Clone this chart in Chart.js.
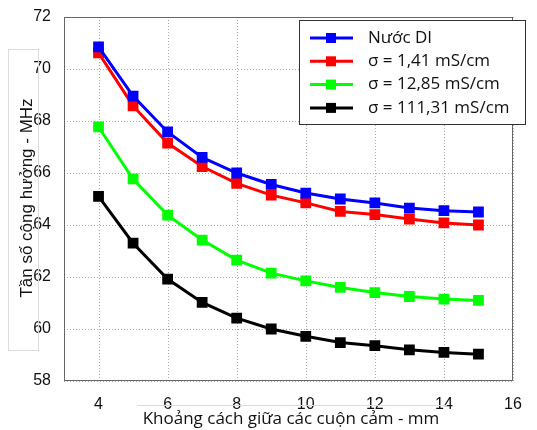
<!DOCTYPE html>
<html>
<head>
<meta charset="utf-8">
<script src="https://cdn.jsdelivr.net/npm/chart.js@4.4.1/dist/chart.umd.min.js"></script>
<style>
  html, body { margin: 0; padding: 0; background: #fff; }
  #wrap { width: 537px; height: 430px; }
</style>
</head>
<body>
<div id="wrap"><canvas id="myChart" width="537" height="430"></canvas></div>
<script>
// khoảng cách (mm)
var distances = [4, 5, 6, 7, 8, 9, 10, 11, 12, 13, 14, 15];
var xTicks = [4, 6, 8, 10, 12, 14, 16];

// tần số cộng hưởng (MHz), lu depuis l'image
var nuocDI = [70.85, 68.96, 67.58, 66.6, 66.0, 65.56, 65.23, 65.0, 64.85, 64.65, 64.55, 64.5];
var sigma141 = [70.62, 68.58, 67.15, 66.25, 65.6, 65.15, 64.85, 64.52, 64.4, 64.23, 64.08, 64.0];
var sigma1285 = [67.77, 65.77, 64.38, 63.42, 62.65, 62.15, 61.85, 61.6, 61.4, 61.25, 61.15, 61.1];
var sigma11131 = [65.1, 63.3, 61.92, 61.02, 60.42, 60.0, 59.72, 59.48, 59.36, 59.2, 59.1, 59.03];

var seriesNames = ["Nước DI", "σ = 1,41 mS/cm", "σ = 12,85 mS/cm", "σ = 111,31 mS/cm"];
var seriesColors = ["#0000ff", "#ff0000", "#00ff00", "#000000"];
var seriesValues = [nuocDI, sigma141, sigma1285, sigma11131];

var tickFont = { family: "'Liberation Sans', Arial, sans-serif", size: 16 };
var titleFont = "17px 'Open Sans', 'Noto Sans', sans-serif";

function makeDataset(i) {
  return {
    label: seriesNames[i],
    data: distances.map((d, k) => ({ x: d, y: seriesValues[i][k] })),
    borderColor: seriesColors[i],
    backgroundColor: seriesColors[i],
    borderWidth: 3,
    pointStyle: 'rect',
    pointRadius: 5.5,
    pointHoverRadius: 5.5,
    tension: 0
  };
}

// grille pointillée
var gridPlugin = {
  id: 'dottedGrid',
  beforeDatasetsDraw: function(chart) {
    var ctx = chart.ctx;
    var area = chart.chartArea;
    var xs = chart.scales.x, ys = chart.scales.y;
    ctx.save();
    ctx.strokeStyle = "#a8a8a8";
    ctx.lineWidth = 1;
    ctx.setLineDash([1, 2]);
    ctx.beginPath();
    xTicks.forEach(function(v) {
      var px = Math.round(xs.getPixelForValue(v)) + 0.5;
      ctx.moveTo(px, area.top);
      ctx.lineTo(px, area.bottom);
    });
    ys.ticks.forEach(function(t) {
      var py = Math.round(ys.getPixelForValue(t.value)) + 0.5;
      ctx.moveTo(area.left, py);
      ctx.lineTo(area.right, py);
    });
    ctx.stroke();
    ctx.restore();
  }
};

// légende et titres dessinés à la main
var decorPlugin = {
  id: 'decor',
  afterDraw: function(chart) {
    var ctx = chart.ctx;
    var area = chart.chartArea;
    ctx.save();

    // cadre du graphique
    ctx.strokeStyle = "#666";
    ctx.lineWidth = 1;
    ctx.strokeRect(area.left + 0.5, area.top + 0.5, area.right - area.left - 1, area.bottom - area.top - 1);

    // titre axe Y
    ctx.strokeStyle = "#dcdcdc";
    ctx.strokeRect(8.5, 49.5, 30, 301);
    ctx.save();
    ctx.translate(27, 198);
    ctx.rotate(-Math.PI / 2);
    ctx.fillStyle = "#111";
    ctx.font = "17px 'Liberation Sans', Arial, sans-serif";
    ctx.textAlign = "center";
    ctx.textBaseline = "middle";
    ctx.fillText("Tần số cộng hưởng - MHz", 0, 0);
    ctx.restore();

    // titre axe X
    ctx.strokeStyle = "#dcdcdc";
    ctx.beginPath();
    ctx.moveTo(137, 405.5);
    ctx.lineTo(447, 405.5);
    ctx.stroke();
    ctx.fillStyle = "#111";
    ctx.font = titleFont;
    ctx.textAlign = "center";
    ctx.textBaseline = "middle";
    ctx.fillText("Khoảng cách giữa các cuộn cảm - mm", 291, 419);

    // légende
    ctx.fillStyle = "#fff";
    ctx.fillRect(299, 20, 227, 105);
    ctx.strokeStyle = "#333";
    ctx.lineWidth = 1;
    ctx.strokeRect(299.5, 20.5, 226, 104);
    ctx.font = "17px 'Open Sans', 'Noto Sans', sans-serif";
    ctx.textAlign = "left";
    for (var i = 0; i < seriesNames.length; i++) {
      var y = 38 + i * 23.3;
      ctx.strokeStyle = seriesColors[i];
      ctx.fillStyle = seriesColors[i];
      ctx.lineWidth = 3;
      ctx.beginPath();
      ctx.moveTo(310, y);
      ctx.lineTo(353, y);
      ctx.stroke();
      ctx.fillRect(326, y - 5, 10, 10);
      ctx.fillStyle = "#111";
      ctx.fillText(seriesNames[i], 368, y);
    }
    ctx.restore();
  }
};

var ctx = document.getElementById("myChart").getContext("2d");
var chartInstance = new Chart(ctx, {
  type: "line",
  data: {
    datasets: [0, 1, 2, 3].map(makeDataset)
  },
  options: {
    responsive: false,
    animation: false,
    layout: { padding: { top: 17, right: 24, left: 0, bottom: 0 } },
    plugins: {
      legend: { display: false },
      tooltip: { enabled: false }
    },
    scales: {
      x: {
        type: 'linear',
        min: 3,
        max: 16,
        afterBuildTicks: function(scale) {
          scale.ticks = xTicks.map(v => ({ value: v }));
        },
        afterFit: function(scale) { scale.height = 49; },
        grid: { display: false },
        border: { display: false },
        ticks: { color: "#111", font: tickFont, padding: 6, maxRotation: 0 }
      },
      y: {
        min: 58,
        max: 72,
        afterFit: function(scale) { scale.width = 64; },
        grid: { display: false },
        border: { display: false },
        ticks: { stepSize: 2, color: "#111", font: tickFont, padding: 5 }
      }
    }
  },
  plugins: [gridPlugin, decorPlugin]
});
</script>
</body>
</html>
